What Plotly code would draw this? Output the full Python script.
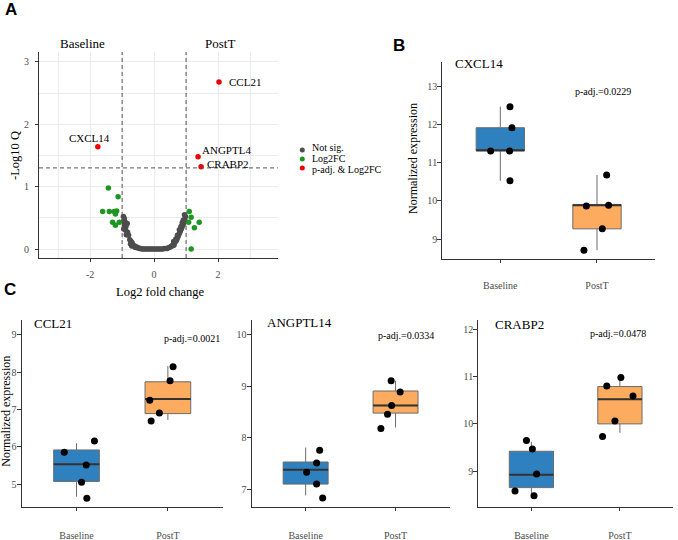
import plotly.graph_objects as go

# ---------------- Volcano data (panel A) ----------------
ns_lfc = [-0.96, -0.93, -0.95, -0.90, -0.84, -0.93, -0.88, -0.95, -0.89, -0.83, -0.87, -0.80,
          -0.76, -0.72, -0.69, -0.74, -0.66, -0.70, -0.63, -0.60, -0.57, -0.54, -0.50, -0.46,
          -0.42, -0.38, -0.33, -0.28, -0.23, -0.18, -0.13, -0.08, -0.03, 0.02, 0.07, 0.12,
          0.17, 0.22, 0.27, 0.32, 0.37, 0.41, 0.45, 0.49, 0.53, 0.56, 0.59, 0.62, 0.64, 0.67,
          0.70, 0.72, 0.75, 0.77, 0.80, 0.82, 0.85, 0.87, 0.90, 0.92, 0.94, 0.96, 0.98, 0.95,
          0.91, 0.88, 0.84, 0.79, 0.73, 0.68, 0.61]
ns_q = [0.52, 0.49, 0.45, 0.43, 0.41, 0.39, 0.36, 0.32, 0.30, 0.27, 0.23, 0.22,
        0.15, 0.12, 0.10, 0.08, 0.07, 0.05, 0.05, 0.03, 0.04, 0.02, 0.02, 0.01,
        0.01, 0.00, 0.00, 0.00, 0.00, 0.00, 0.00, 0.00, 0.00, 0.00, 0.00, 0.00,
        0.00, 0.00, 0.00, 0.01, 0.01, 0.01, 0.02, 0.03, 0.04, 0.05, 0.07, 0.06, 0.10, 0.12,
        0.14, 0.17, 0.20, 0.23, 0.26, 0.29, 0.32, 0.35, 0.38, 0.41, 0.44, 0.48, 0.52, 0.55,
        0.46, 0.42, 0.36, 0.31, 0.22, 0.16, 0.12]
fc_lfc = [-1.43, -1.125, -1.61, -1.40, -1.25, -1.17, -1.21, -1.30, -1.21, -1.09,
          1.10, 1.16, 1.08, 1.41, 1.26, 1.16]
fc_q = [0.98, 0.84, 0.60, 0.60, 0.60, 0.61, 0.56, 0.43, 0.38, 0.43,
        0.60, 0.51, 0.43, 0.43, 0.34, 0.00]
sig_genes = ["CXCL14", "CCL21", "ANGPTL4", "CRABP2"]
sig_lfc = [-1.76, 2.03, 1.375, 1.47]
sig_q = [1.64, 2.68, 1.48, 1.32]
fc_cut = 1.0
q_cut = 1.30103  # -log10(0.05)
vol_xticks = [-2, 0, 2]
vol_xticklabels = ["-2", "0", "2"]
vol_yticks = [0, 1, 2, 3]
legend_labels = ["Not sig.", "Log2FC", "p-adj. & Log2FC"]

# ---------------- Box panel data (B, C) ----------------
groups = ["Baseline", "PostT"]
box_genes = ["CXCL14", "CCL21", "ANGPTL14", "CRABP2"]
box_padj = ["0.0229", "0.0021", "0.0334", "0.0478"]

cxcl14_baseline = [12.47, 11.92, 11.31, 11.31, 10.53]
cxcl14_postt = [10.68, 9.87, 9.89, 9.27, 8.71]
cxcl14_stats_baseline = [10.53, 11.31, 11.33, 11.92, 12.47]  # lower, q1, median, q3, upper
cxcl14_stats_postt = [8.71, 9.27, 9.89, 9.91, 10.68]

ccl21_baseline = [6.16, 5.86, 5.52, 5.06, 4.63]
ccl21_postt = [8.14, 7.77, 7.25, 6.91, 6.69]
ccl21_stats_baseline = [4.67, 5.08, 5.54, 5.92, 6.10]
ccl21_stats_postt = [6.72, 6.89, 7.28, 7.74, 8.16]

angptl14_baseline = [7.76, 7.51, 7.33, 7.10, 6.83]
angptl14_postt = [9.11, 8.89, 8.63, 8.46, 8.18]
angptl14_stats_baseline = [6.88, 7.10, 7.38, 7.53, 7.81]
angptl14_stats_postt = [8.20, 8.48, 8.63, 8.91, 9.11]

crabp2_baseline = [9.65, 9.47, 8.94, 8.58, 8.48]
crabp2_postt = [10.98, 10.80, 10.59, 10.06, 9.73]
crabp2_stats_baseline = [8.44, 8.65, 8.92, 9.42, 9.62]
crabp2_stats_postt = [9.81, 10.00, 10.52, 10.79, 10.94]

# horizontal jitter offsets (positions, kept separate)
cxcl14_jit_baseline = [0.10, 0.12, -0.10, 0.096, 0.10]
cxcl14_jit_postt = [0.10, -0.11, 0.12, 0.055, -0.135]
ccl21_jit_baseline = [0.196, -0.134, 0.106, 0.055, 0.113]
ccl21_jit_postt = [0.057, 0.024, -0.198, -0.093, -0.183]
angptl14_jit_baseline = [0.156, 0.122, 0.011, 0.122, 0.189]
angptl14_jit_postt = [-0.049, 0.051, -0.044, -0.089, -0.163]
crabp2_jit_baseline = [-0.056, 0.011, 0.059, -0.185, 0.03]
crabp2_jit_postt = [0.011, -0.148, 0.148, -0.056, -0.196]

# ---------------- styling ----------------
W, H = 678, 540
SERIF = "Liberation Serif"
SANS = "Liberation Sans"
C_NS, C_FC, C_SIG = "#4d4d4d", "#1e9622", "#ee0000"
C_BLUE, C_ORANGE = "#2f80bf", "#fdab5f"
AXC = "#333333"
TICKC = "#4d4d4d"


def px(x):
    return x / W


def py(y):
    return 1 - y / H


fig = go.Figure()

# ---- Volcano ----
fig.add_trace(go.Scatter(x=ns_lfc, y=ns_q, mode="markers", xaxis="x", yaxis="y",
                         marker=dict(color=C_NS, size=5.5), showlegend=False, hoverinfo="skip"))
fig.add_trace(go.Scatter(x=fc_lfc, y=fc_q, mode="markers", xaxis="x", yaxis="y",
                         marker=dict(color=C_FC, size=5.5), showlegend=False, hoverinfo="skip"))
fig.add_trace(go.Scatter(x=sig_lfc, y=sig_q, mode="markers", xaxis="x", yaxis="y",
                         marker=dict(color=C_SIG, size=5.5), showlegend=False, hoverinfo="skip"))

shapes = []
for v in (-fc_cut, fc_cut):
    shapes.append(dict(type="line", xref="x", yref="y domain", x0=v, x1=v, y0=0, y1=1,
                       line=dict(color="#555555", width=1, dash="4px,3px")))
shapes.append(dict(type="line", xref="x domain", yref="y", x0=0, x1=1, y0=q_cut, y1=q_cut,
                   line=dict(color="#555555", width=1, dash="4px,3px")))

annotations = []
label_offsets = {"CXCL14": dict(xanchor="center", xshift=-8, yshift=9),
                 "CCL21": dict(xanchor="left", xshift=8, yshift=0),
                 "ANGPTL4": dict(xanchor="left", xshift=2, yshift=7),
                 "CRABP2": dict(xanchor="left", xshift=4, yshift=3)}
for g, xv, yv in zip(sig_genes, sig_lfc, sig_q):
    o = label_offsets[g]
    annotations.append(dict(x=xv, y=yv, xref="x", yref="y", text=g, showarrow=False,
                            xanchor=o["xanchor"], yanchor="middle", xshift=o["xshift"],
                            yshift=o["yshift"], font=dict(family=SERIF, size=11, color="black")))

# Legend (manual, compact)
leg_colors = [C_NS, C_FC, C_SIG]
leg_dot_y = [150, 159, 168]
leg_text_y = [147.5, 158.3, 169.5]
for lab, col, yd, yt_ in zip(legend_labels, leg_colors, leg_dot_y, leg_text_y):
    shapes.append(dict(type="circle", xref="paper", yref="paper", xsizemode="pixel",
                       ysizemode="pixel", xanchor=px(302.3), yanchor=py(yd),
                       x0=-2.5, x1=2.5, y0=-2.5, y1=2.5,
                       fillcolor=col, line=dict(width=0)))
    annotations.append(dict(x=px(310.5), y=py(yt_), xref="paper", yref="paper", text=lab,
                            showarrow=False, xanchor="left", yanchor="middle", borderpad=0,
                            font=dict(family=SERIF, size=10, color="black")))

# ---- Box panels ----
panels = [
    ("x2", "y2", cxcl14_baseline, cxcl14_postt, cxcl14_stats_baseline, cxcl14_stats_postt,
     cxcl14_jit_baseline, cxcl14_jit_postt),
    ("x3", "y3", ccl21_baseline, ccl21_postt, ccl21_stats_baseline, ccl21_stats_postt,
     ccl21_jit_baseline, ccl21_jit_postt),
    ("x4", "y4", angptl14_baseline, angptl14_postt, angptl14_stats_baseline, angptl14_stats_postt,
     angptl14_jit_baseline, angptl14_jit_postt),
    ("x5", "y5", crabp2_baseline, crabp2_postt, crabp2_stats_baseline, crabp2_stats_postt,
     crabp2_jit_baseline, crabp2_jit_postt),
]
for xa, ya, vb, vp, sb, sp, jb, jp in panels:
    for gi, (vals, st, jit, col) in enumerate([(vb, sb, jb, C_BLUE), (vp, sp, jp, C_ORANGE)]):
        fig.add_trace(go.Box(x=[gi], lowerfence=[st[0]], q1=[st[1]], median=[st[2]], q3=[st[3]],
                             upperfence=[st[4]], width=0.5, whiskerwidth=0, fillcolor=col,
                             line=dict(color="#6b6b6b", width=1), xaxis=xa, yaxis=ya,
                             boxpoints=False, showlegend=False, hoverinfo="skip"))
        fig.add_trace(go.Scatter(x=[gi - 0.25, gi + 0.25], y=[st[2], st[2]], mode="lines",
                                 line=dict(color="#333333", width=2), xaxis=xa, yaxis=ya,
                                 showlegend=False, hoverinfo="skip"))
        fig.add_trace(go.Scatter(x=[gi + j for j in jit], y=vals, mode="markers",
                                 marker=dict(color="black", size=7), xaxis=xa, yaxis=ya,
                                 showlegend=False, hoverinfo="skip"))


def base_axis(**kw):
    d = dict(showline=True, linecolor=AXC, linewidth=1.2, ticks="outside", ticklen=3,
             tickcolor=AXC, tickwidth=1, showgrid=False, zeroline=False, fixedrange=True,
             tickfont=dict(family=SERIF, size=10, color=TICKC))
    d.update(kw)
    return d


layout = dict(width=W, height=H, margin=dict(l=0, r=0, t=0, b=0),
              paper_bgcolor="white", plot_bgcolor="white", showlegend=False)

layout["xaxis"] = base_axis(domain=[px(39), px(278)], range=[-3.6, 3.875], anchor="y",
                            tickmode="array", tickvals=vol_xticks, ticktext=vol_xticklabels,
                            showgrid=True, gridcolor="#ebebeb", gridwidth=1,
                            minor=dict(tickvals=[-3, -1, 1, 3], showgrid=True,
                                       gridcolor="#ebebeb", gridwidth=1, ticks=""),
                            ticklabelstandoff=4)
layout["yaxis"] = base_axis(domain=[py(258), py(52)], range=[-0.144, 3.16], anchor="x",
                            tickmode="array", tickvals=vol_yticks,
                            showgrid=True, gridcolor="#ebebeb", gridwidth=1,
                            minor=dict(tickvals=[0.5, 1.5, 2.5], showgrid=True,
                                       gridcolor="#ebebeb", gridwidth=1, ticks=""),
                            ticklabelstandoff=4)

box_axes = [
    ("xaxis2", "yaxis2", "x2", "y2", (442.3, 655), (61.7, 259), (8.48, 13.65), [9, 10, 11, 12, 13], 14),
    ("xaxis3", "yaxis3", "x3", "y3", (21.7, 222.7), (320, 506.5), (4.41, 9.39), [5, 6, 7, 8, 9], 16),
    ("xaxis4", "yaxis4", "x4", "y4", (251.7, 449.5), (320, 506.5), (6.665, 10.29), [7, 8, 9, 10], 16),
    ("xaxis5", "yaxis5", "x5", "y5", (478.3, 673), (320, 506.5), (8.25, 12.2), [9, 10, 11, 12], 16),
]
for xk, yk, xn, yn, (x0, x1), (y0, y1), yr, yt, so in box_axes:
    layout[xk] = base_axis(domain=[px(x0), px(x1)], range=[-0.6, 1.6], anchor=yn,
                           tickmode="array", tickvals=[0, 1], ticktext=groups,
                           ticklabelstandoff=so)
    layout[yk] = base_axis(domain=[py(y1), py(y0)], range=list(yr), anchor=xn,
                           tickmode="array", tickvals=yt, ticklen=4, ticklabelstandoff=-2)

# Text annotations
def ann(x, y, text, size, family=SERIF, xanchor="center", angle=0, bold=False):
    t = f"<b>{text}</b>" if bold else text
    annotations.append(dict(x=px(x), y=py(y), xref="paper", yref="paper", text=t,
                            showarrow=False, xanchor=xanchor, yanchor="middle", textangle=angle,
                            font=dict(family=family, size=size, color="black")))


ann(10.5, 10, "A", 17, SANS, bold=True)
ann(398.5, 45, "B", 17, SANS, bold=True)
ann(9.5, 289, "C", 17, SANS, bold=True)

ann(82.7, 43.3, groups[0], 13)
ann(220, 43.3, groups[1], 13)
ann(160, 292, "Log2 fold change", 12.5)
ann(15, 156, "-Log10 Q", 12.5, angle=-90)

title_pos = [(453, 63.3), (31.7, 323.3), (265, 322.7), (492.7, 324)]
padj_pos = [(602.5, 91), (192, 338), (405.5, 335), (617.5, 333)]
for g, p, (tx, ty), (qx, qy) in zip(box_genes, box_padj, title_pos, padj_pos):
    ann(tx, ty, g, 13, xanchor="left")
    ann(qx, qy, "p-adj.=" + p, 10)

ann(413, 159, "Normalized expression", 12, angle=-90)
ann(6, 411.7, "Normalized expression", 12, angle=-90)

layout["shapes"] = shapes
layout["annotations"] = annotations
fig.update_layout(**layout)

fig.write_html("out.html", config={"displayModeBar": False},
               post_script="document.body.style.margin='0px';document.body.style.overflow='hidden';")
